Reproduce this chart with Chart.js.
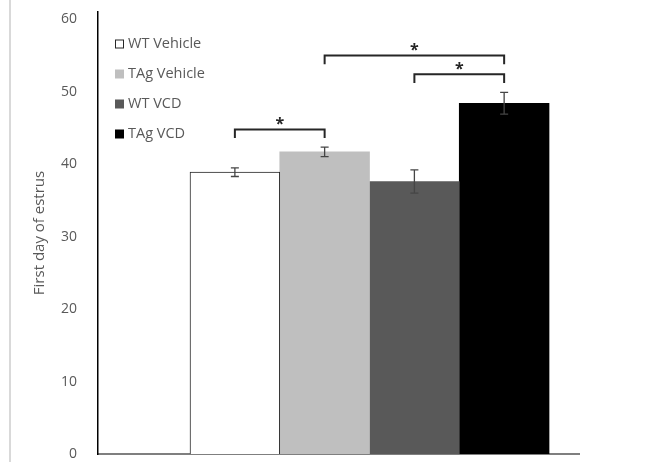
<!DOCTYPE html>
<html>
<head>
<meta charset="utf-8">
<script src="https://cdn.jsdelivr.net/npm/chart.js@4"></script>
<style>
body { margin: 0; background: #fff; }
#wrap { position: relative; width: 659px; height: 462px; }
#edge { position: absolute; left: 9px; top: 0; width: 1.5px; height: 462px; background: #d9d9d9; }
canvas { display: block; }
</style>
</head>
<body>
<div id="wrap"><div id="edge"></div><canvas id="myChart" width="659" height="462"></canvas></div>
<script>
var groups = ['WT Vehicle', 'TAg Vehicle', 'WT VCD', 'TAg VCD'];
var means = [38.9, 41.7, 37.6, 48.4];
var sems = [0.6, 0.65, 1.6, 1.5];
var fills = ['#ffffff', '#bfbfbf', '#595959', '#000000'];
var yTicks = [0, 10, 20, 30, 40, 50, 60];
// significance brackets (group index from / to, height in y units)
var sigFrom = [0, 1, 2];
var sigTo = [1, 3, 3];
var sigHeight = [44.8, 55.0, 52.4];

var font = "'Open Sans', sans-serif";
var grey = '#595959';

var datasets = groups.map(function (g, i) {
	return {
		label: g,
		data: [{ x: i + 1, y: means[i] }],
		backgroundColor: fills[i],
		borderColor: i === 0 ? '#262626' : fills[i],
		borderWidth: i === 0 ? 1 : 0,
		grouped: false,
		barPercentage: 1,
		categoryPercentage: 1
	};
});

// error bars + significance brackets
var extras = {
	id: 'extras',
	afterDatasetsDraw: function (chart) {
		var ctx = chart.ctx;
		var ys = chart.scales.y;
		ctx.save();
		ctx.strokeStyle = '#454545';
		ctx.lineWidth = 1.3;
		for (var i = 0; i < groups.length; i++) {
			var bar = chart.getDatasetMeta(i).data[0];
			var top = ys.getPixelForValue(means[i] + sems[i]);
			var bot = ys.getPixelForValue(means[i] - sems[i]);
			ctx.beginPath();
			ctx.moveTo(bar.x, top); ctx.lineTo(bar.x, bot);
			ctx.moveTo(bar.x - 4, top); ctx.lineTo(bar.x + 4, top);
			ctx.moveTo(bar.x - 4, bot); ctx.lineTo(bar.x + 4, bot);
			ctx.stroke();
		}
		ctx.strokeStyle = '#262626';
		ctx.lineWidth = 2;
		ctx.fillStyle = '#262626';
		ctx.font = 'bold 16px ' + font;
		ctx.textAlign = 'center';
		ctx.textBaseline = 'alphabetic';
		for (var k = 0; k < sigFrom.length; k++) {
			var x1 = chart.getDatasetMeta(sigFrom[k]).data[0].x;
			var x2 = chart.getDatasetMeta(sigTo[k]).data[0].x;
			var yl = ys.getPixelForValue(sigHeight[k]);
			var yd = ys.getPixelForValue(sigHeight[k] - 1.2);
			ctx.beginPath();
			ctx.moveTo(x1, yd); ctx.lineTo(x1, yl); ctx.lineTo(x2, yl); ctx.lineTo(x2, yd);
			ctx.stroke();
			ctx.fillText('*', (x1 + x2) / 2, yl);
		}
		ctx.restore();
	},
	afterDraw: function (chart) {
		// legend inside the plot area
		var ctx = chart.ctx;
		var a = chart.chartArea;
		ctx.save();
		ctx.font = '14.5px ' + font;
		ctx.textBaseline = 'middle';
		ctx.textAlign = 'left';
		for (var i = 0; i < groups.length; i++) {
			var x = a.left + 17;
			var y = a.top + 32 + i * 30;
			ctx.fillStyle = fills[i];
			ctx.fillRect(x, y - 4.5, 9, 9);
			if (i === 0) {
				ctx.strokeStyle = '#262626';
				ctx.lineWidth = 1;
				ctx.strokeRect(x + 0.5, y - 4, 8, 8);
			}
			ctx.fillStyle = grey;
			ctx.fillText(groups[i], x + 13, y);
		}
		ctx.restore();
	}
};

var ctx = document.getElementById('myChart').getContext('2d');
var chart = new Chart(ctx, {
	type: 'bar',
	data: { datasets: datasets },
	options: {
		responsive: false,
		animation: false,
		layout: { padding: { left: 0, right: 80, top: 12, bottom: 8 } },
		plugins: { legend: { display: false }, tooltip: { enabled: false } },
		scales: {
			x: {
				type: 'linear',
				offset: false,
				min: -0.525,
				max: 4.834,
				afterBuildTicks: function (s) { s.ticks = groups.map(function (g, i) { return { value: i + 1 }; }); },
				ticks: { display: false },
				grid: { display: false, drawTicks: false },
				border: { color: '#7f7f7f', width: 2 }
			},
			y: {
				min: 0,
				max: 61,
				afterBuildTicks: function (s) { s.ticks = yTicks.map(function (v) { return { value: v }; }); },
				afterFit: function (s) { s.width = 98; },
				ticks: { color: grey, padding: 0, font: { family: font, size: 14, lineHeight: 1 } },
				grid: { display: false, drawTicks: true, tickLength: 21 },
				border: { color: '#000000', width: 1.5 },
				title: {
					display: true,
					text: 'First day of estrus',
					color: grey,
					font: { family: font, size: 15 },
					padding: { top: 31, bottom: 0 }
				}
			}
		}
	},
	plugins: [extras]
});
</script>
</body>
</html>
